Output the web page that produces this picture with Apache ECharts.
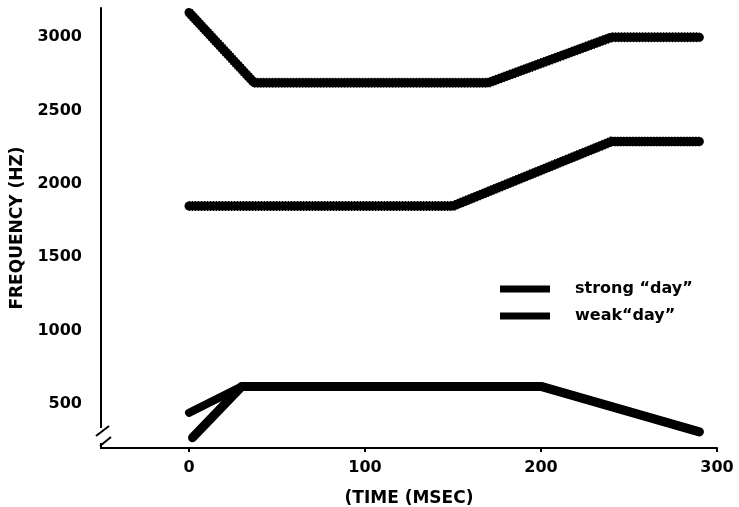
<!DOCTYPE html>
<html>
<head>
<meta charset="utf-8">
<script src="https://cdn.jsdelivr.net/npm/echarts@6/dist/echarts.min.js"></script>
<style>
  html, body { margin: 0; padding: 0; background: #fff; }
  #main { width: 739px; height: 507px; }
</style>
</head>
<body>
<div id="main"></div>
<script>
// formant tracks, [time ms, frequency Hz]
var strongF1 = [[2, 270], [30, 620], [200, 620], [290, 310]];
var weakF1 = [[0, 440], [30, 620], [200, 620], [290, 310]];
var formant2 = [[0, 1850], [150, 1850], [240, 2290], [290, 2290]];
var formant3 = [[0, 3170], [37, 2690], [170, 2690], [240, 3000], [290, 3000]];

var xTicks = [0, 100, 200, 300];
var yTicks = [500, 1000, 1500, 2000, 2500, 3000];
var strongName = 'strong \u201cday\u201d';
var weakName = 'weak\u201cday\u201d';

var font = 'DejaVu Sans';

function strongLine(data) {
    return {
        name: strongName,
        type: 'line',
        data: data,
        symbol: 'none',
        lineStyle: { color: '#000', width: 9, cap: 'round', join: 'round' },
        itemStyle: { color: '#000' },
        z: 2
    };
}
function weakLine(data) {
    return {
        name: weakName,
        type: 'line',
        data: data,
        symbol: 'none',
        lineStyle: { color: '#000', width: 8, cap: 'round', join: 'round' },
        itemStyle: { color: '#000' },
        z: 3
    };
}
// serrated edge of the weak track
function weakEdge(data) {
    return {
        name: weakName,
        type: 'line',
        data: data,
        symbol: 'none',
        lineStyle: { color: '#000', width: 10, type: [1, 2] },
        itemStyle: { color: '#000' },
        z: 1
    };
}

var option = {
    backgroundColor: '#fff',
    animation: false,
    grid: { left: 101, right: 22, top: 8, bottom: 59, containLabel: false, outerBoundsMode: 'none' },
    legend: {
        left: 495,
        top: 276,
        orient: 'vertical',
        itemWidth: 50,
        itemHeight: 7,
        itemGap: 11,
        icon: 'rect',
        data: [strongName, weakName],
        textStyle: { color: '#000', fontFamily: font, fontWeight: 'bold', fontSize: 16, padding: [0, 0, 0, 20] }
    },
    xAxis: {
        type: 'value',
        min: -50,
        max: 300,
        interval: 50,
        name: '(TIME (MSEC)',
        nameLocation: 'middle',
        nameGap: 42,
        nameTextStyle: { color: '#000', fontFamily: font, fontWeight: 'bold', fontSize: 17 },
        axisLine: { show: true, onZero: false, lineStyle: { color: '#000', width: 2 } },
        axisTick: { show: true, customValues: xTicks, length: 4, lineStyle: { color: '#000', width: 2 } },
        axisLabel: { customValues: xTicks, color: '#000', fontFamily: font, fontWeight: 'bold', fontSize: 16, margin: 12 },
        splitLine: { show: false }
    },
    yAxis: {
        type: 'value',
        min: 200,
        max: 3200,
        name: 'FREQUENCY (HZ)',
        nameLocation: 'middle',
        nameGap: 75,
        nameRotate: 90,
        nameTextStyle: { color: '#000', fontFamily: font, fontWeight: 'bold', fontSize: 17 },
        axisLine: { show: true, onZero: false, lineStyle: { color: '#000', width: 2 } },
        axisTick: { show: false },
        axisLabel: {
            customValues: yTicks, color: '#000', fontFamily: font, fontWeight: 'bold', fontSize: 16, margin: 19,
            formatter: function (v) { return String(v); }
        },
        splitLine: { show: false }
    },
    series: [
        strongLine(strongF1),
        strongLine(formant2),
        strongLine(formant3),
        weakLine(weakF1),
        weakEdge(formant2),
        weakEdge(formant3)
    ],
    graphic: [
        { type: 'rect', shape: { x: 95, y: 428, width: 12, height: 15 }, style: { fill: '#fff' }, z: 100 },
        { type: 'line', shape: { x1: 96, y1: 436, x2: 109, y2: 426 }, style: { stroke: '#000', lineWidth: 2 }, z: 101 },
        { type: 'line', shape: { x1: 100, y1: 446, x2: 111, y2: 437 }, style: { stroke: '#000', lineWidth: 2 }, z: 101 }
    ]
};

var myChart = echarts.init(document.getElementById('main'));
myChart.setOption(option);
</script>
</body>
</html>
